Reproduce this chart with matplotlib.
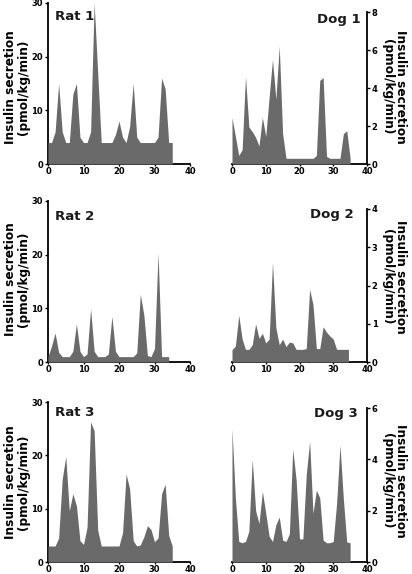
import matplotlib
matplotlib.use("Agg")
from matplotlib import pyplot as plt

matplotlib.rcParams.update({'font.family': 'DejaVu Sans', 'font.weight': 'bold'})

# minutes
t35 = list(range(36))
t34 = list(range(35))
dog2_t = list(range(35)) + [34.5]

rat1 = [4, 4, 6, 15, 6, 4, 4, 13, 15, 5, 4, 4, 6, 30, 17, 4, 4, 4,
        4, 5.5, 8, 5, 4, 7, 15, 5, 4, 4, 4, 4, 4, 5, 16, 14, 4, 4]
dog1 = [2.45, 1.45, 0.45, 0.75, 4.6, 1.95, 1.7, 1.4, 0.95, 2.45, 1.45, 3.5,
        5.5, 3.4, 6.2, 1.6, 0.3, 0.3, 0.3, 0.3, 0.3, 0.3, 0.3, 0.3, 0.3,
        0.45, 4.4, 4.55, 0.4, 0.3, 0.3, 0.3, 0.3, 1.6, 1.75, 0.3]
rat2 = [1, 3, 5.4, 1.8, 1, 1, 1, 2, 7.1, 2, 1, 1.5, 9.9, 2, 1, 1, 1,
        1.5, 8.5, 2, 1, 1, 1, 1, 1, 1.7, 12.6, 8.8, 1.2, 1, 2.5, 20.3,
        1, 1, 1]
dog2 = [0.32, 0.42, 1.22, 0.6, 0.33, 0.33, 0.45, 1.0, 0.62, 0.75, 0.5,
        0.6, 2.6, 0.9, 0.45, 0.6, 0.4, 0.52, 0.5, 0.33, 0.33, 0.33, 0.35,
        1.9, 1.5, 0.35, 0.35, 0.92, 0.78, 0.68, 0.6, 0.33, 0.33, 0.33,
        0.33, 0.33]
rat3 = [3, 3, 3, 4.5, 15.5, 19.8, 9.6, 12.8, 10.6, 4, 3.3, 6.5, 26.3,
        24.6, 6, 3, 3, 3, 3, 3, 3, 5.5, 16.5, 13.7, 4, 3, 3.2, 4.7, 6.8,
        6.1, 3.8, 4.5, 12.8, 14.6, 5, 3]
dog3 = [5.2, 2.5, 0.8, 0.75, 0.8, 1.2, 4.0, 2.0, 1.5, 2.75, 1.9, 1.0,
        0.8, 1.45, 1.75, 0.85, 0.8, 1.1, 4.4, 3.2, 0.9, 0.9, 3.4, 4.7,
        1.9, 2.8, 2.5, 0.85, 0.75, 0.75, 0.8, 2.3, 4.55, 2.45, 0.78, 0.75]

x_ticks = [0, 10, 20, 30, 40]
rat_yticks = [0, 10, 20, 30]
dog1_yticks = [0, 2, 4, 6, 8]
dog2_yticks = [0, 1, 2, 3, 4]
dog3_yticks = [0, 2, 4, 6]

ylabel = 'Insulin secretion\n(pmol/kg/min)'
W, H = 412, 574
fig = plt.figure(figsize=(W / 100, H / 100), dpi=100)


def panel(box, t, y, yticks, side, title, title_xy, label_xy):
    l, top, r, bot = box
    ax = fig.add_axes([l / W, 1 - bot / H, (r - l) / W, (bot - top) / H])
    ax.fill_between(t, y, 0, color='#6a6a6a', lw=0, zorder=3)
    ax.set_xlim(0, 40)
    ax.set_ylim(0, yticks[-1])
    ax.set_xticks(x_ticks)
    ax.set_yticks(yticks)
    ax.spines['top'].set_visible(False)
    hide = 'right' if side == 'left' else 'left'
    ax.spines[hide].set_visible(False)
    for s in ('bottom', side):
        ax.spines[s].set_linewidth(1.3)
    ax.yaxis.set_ticks_position(side)
    ax.tick_params(axis='y', labelsize=6, length=2.5, width=1, pad=1)
    ax.tick_params(axis='x', labelsize=6, length=1.5, width=1, pad=0.3)
    for lab in ax.get_xticklabels() + ax.get_yticklabels():
        lab.set_fontweight('bold')
    ha = 'left' if side == 'left' else 'right'
    fig.text(title_xy[0] / W, 1 - title_xy[1] / H, title, ha=ha, va='center',
             fontsize=9.5, fontweight='bold', color='#1a1a1a')
    rot = 90 if side == 'left' else 270
    fig.text(label_xy[0] / W, 1 - label_xy[1] / H, ylabel, rotation=rot,
             ha='center', va='center', multialignment='center',
             fontsize=8.7, fontweight='bold', linespacing=1.05)
    return ax


panel((48, 3, 190, 164), t35, rat1, rat_yticks, 'left', 'Rat 1', (55, 17), (17, 87))
panel((232, 12, 367, 164), t35, dog1, dog1_yticks, 'right', 'Dog 1', (361, 19), (394, 87))
panel((48, 201, 190, 362), t34, rat2, rat_yticks, 'left', 'Rat 2', (55, 216), (17, 279))
panel((232, 209, 367, 362), dog2_t, dog2, dog2_yticks, 'right', 'Dog 2', (354, 215), (394, 277))
panel((48, 402, 190, 562), t35, rat3, rat_yticks, 'left', 'Rat 3', (55, 412), (17, 482))
panel((232, 408, 367, 562), t35, dog3, dog3_yticks, 'right', 'Dog 3', (358, 414), (394, 481))

plt.savefig("out.png", dpi=100)
